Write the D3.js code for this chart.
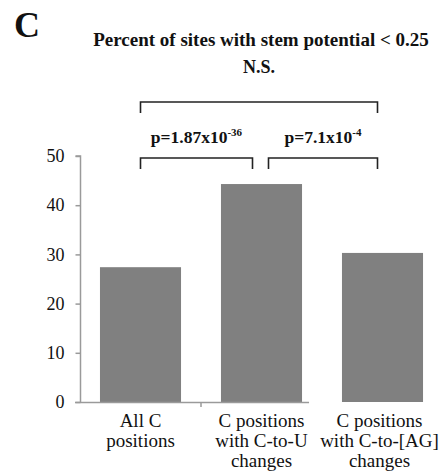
<!DOCTYPE html>
<html>
<head>
<meta charset="utf-8">
<script src="https://cdn.jsdelivr.net/npm/d3@7"></script>
<style>
  body { margin: 0; background: #fff; }
  svg { font-family: "Liberation Serif", "Times New Roman", serif; }
</style>
</head>
<body>
<div id="chart"></div>
<script>
// data
var categories = [
    ["All C", "positions"],
    ["C positions", "with C-to-U", "changes"],
    ["C positions", "with C-to-[AG]", "changes"]
];
var values = [27.4, 44.3, 30.3];
var yTicks = [0, 10, 20, 30, 40, 50];
// comparisons: from bar, to bar, label, exponent, row
var comparisons = [
    {a: 0, b: 2, base: "N.S.", exp: "", row: 0},
    {a: 0, b: 1, base: "p=1.87x10", exp: "-36", row: 1},
    {a: 1, b: 2, base: "p=7.1x10", exp: "-4", row: 1}
];

var width = 443,
    height = 472,
    plotLeft = 80,
    plotTop = 156,
    plotBottom = 402;

var svg = d3.select("#chart")
    .append("svg")
      .attr("width", width)
      .attr("height", height);

var x = d3.scaleBand()
    .domain(d3.range(categories.length))
    .range([plotLeft, width])
    .paddingInner(0.33)
    .paddingOuter(0.165);

var y = d3.scaleLinear()
    .domain([0, 50])
    .range([plotBottom, plotTop]);

var axisColor = "#9a9a9a";

// bars
svg.append("g")
    .selectAll("rect")
    .data(values)
    .join("rect")
      .attr("x", function(d, i){ return x(i); })
      .attr("y", function(d){ return y(d); })
      .attr("width", x.bandwidth())
      .attr("height", function(d){ return y(0) - y(d); })
      .style("fill", "#808080");

// y axis
var yAxis = d3.axisLeft(y).tickValues(yTicks).tickSize(5).tickPadding(11);
var gy = svg.append("g")
    .attr("transform", "translate(" + (plotLeft + 0.5) + ",0)")
    .call(yAxis);
gy.select(".domain").attr("d", "M-5," + y(50) + "H0V" + y(0))
    .style("stroke", axisColor).style("stroke-width", 1.5);
gy.selectAll(".tick line").style("stroke", axisColor).style("stroke-width", 1.5);
gy.selectAll(".tick text")
    .style("font-family", "'Liberation Serif', serif")
    .style("font-size", "18px")
    .style("fill", "#111");

// x axis line (stops just past the second bar, as in the figure)
var xEnd = x(1) + x.bandwidth() + 7;
svg.append("path")
    .attr("d", "M" + (plotLeft - 5) + "," + (y(0) + 0.5) + "H" + xEnd)
    .style("stroke", axisColor).style("stroke-width", 1.5).style("fill", "none");
svg.append("path")
    .attr("d", "M" + (x(1) - x.step() * x.paddingInner() / 2) + "," + y(0) + "v5")
    .style("stroke", axisColor).style("stroke-width", 1.5);

// category labels
var lab = svg.append("g")
    .selectAll("text")
    .data(categories)
    .join("text")
      .attr("x", function(d, i){ return x(i) + x.bandwidth() / 2 - (i == 2 ? 3 : 0); })
      .attr("y", 427)
      .attr("text-anchor", "middle")
      .style("font-size", "19px")
      .style("fill", "#111");
lab.selectAll("tspan")
    .data(function(d){ return d; })
    .join("tspan")
      .attr("x", function(){ return d3.select(this.parentNode).attr("x"); })
      .attr("dy", function(d, i){ return i == 0 ? 0 : 20; })
      .text(function(d){ return d; });

// significance brackets
var center = function(i){ return x(i) + x.bandwidth() / 2; };
var rowY = [102, 158];
var br = svg.append("g")
    .selectAll("g")
    .data(comparisons)
    .join("g");

br.append("path")
    .attr("d", function(d){
        var x0 = center(d.a) + (d.a == 1 ? 7 : 0),
            x1 = center(d.b) - (d.b == 1 ? 9 : 5),
            yy = rowY[d.row];
        return "M" + x0 + "," + (yy + 11) + "V" + yy + "H" + x1 + "V" + (yy + 11);
    })
    .style("fill", "none")
    .style("stroke", "#222")
    .style("stroke-width", 1.6);

var bt = br.append("text")
    .attr("x", function(d){
        var x0 = center(d.a) + (d.a == 1 ? 7 : 0),
            x1 = center(d.b) - (d.b == 1 ? 9 : 5);
        return (x0 + x1) / 2;
    })
    .attr("y", function(d){ return rowY[d.row] - (d.row == 0 ? 29 : 15); })
    .attr("text-anchor", "middle")
    .style("font-weight", "bold")
    .style("font-size", function(d){ return d.row == 0 ? "18px" : "17.5px"; })
    .style("fill", "#111");
bt.append("tspan").text(function(d){ return d.base; });
bt.append("tspan")
    .attr("dy", -7)
    .style("font-size", "11px")
    .text(function(d){ return d.exp; });

// title and panel letter
svg.append("text")
    .attr("x", 261)
    .attr("y", 46)
    .attr("text-anchor", "middle")
    .style("font-weight", "bold")
    .style("font-size", "19px")
    .style("fill", "#111")
    .text("Percent of sites with stem potential < 0.25");

svg.append("text")
    .attr("x", 14)
    .attr("y", 37)
    .style("font-weight", "bold")
    .style("font-size", "36px")
    .style("fill", "#111")
    .text("C");
</script>
</body>
</html>
